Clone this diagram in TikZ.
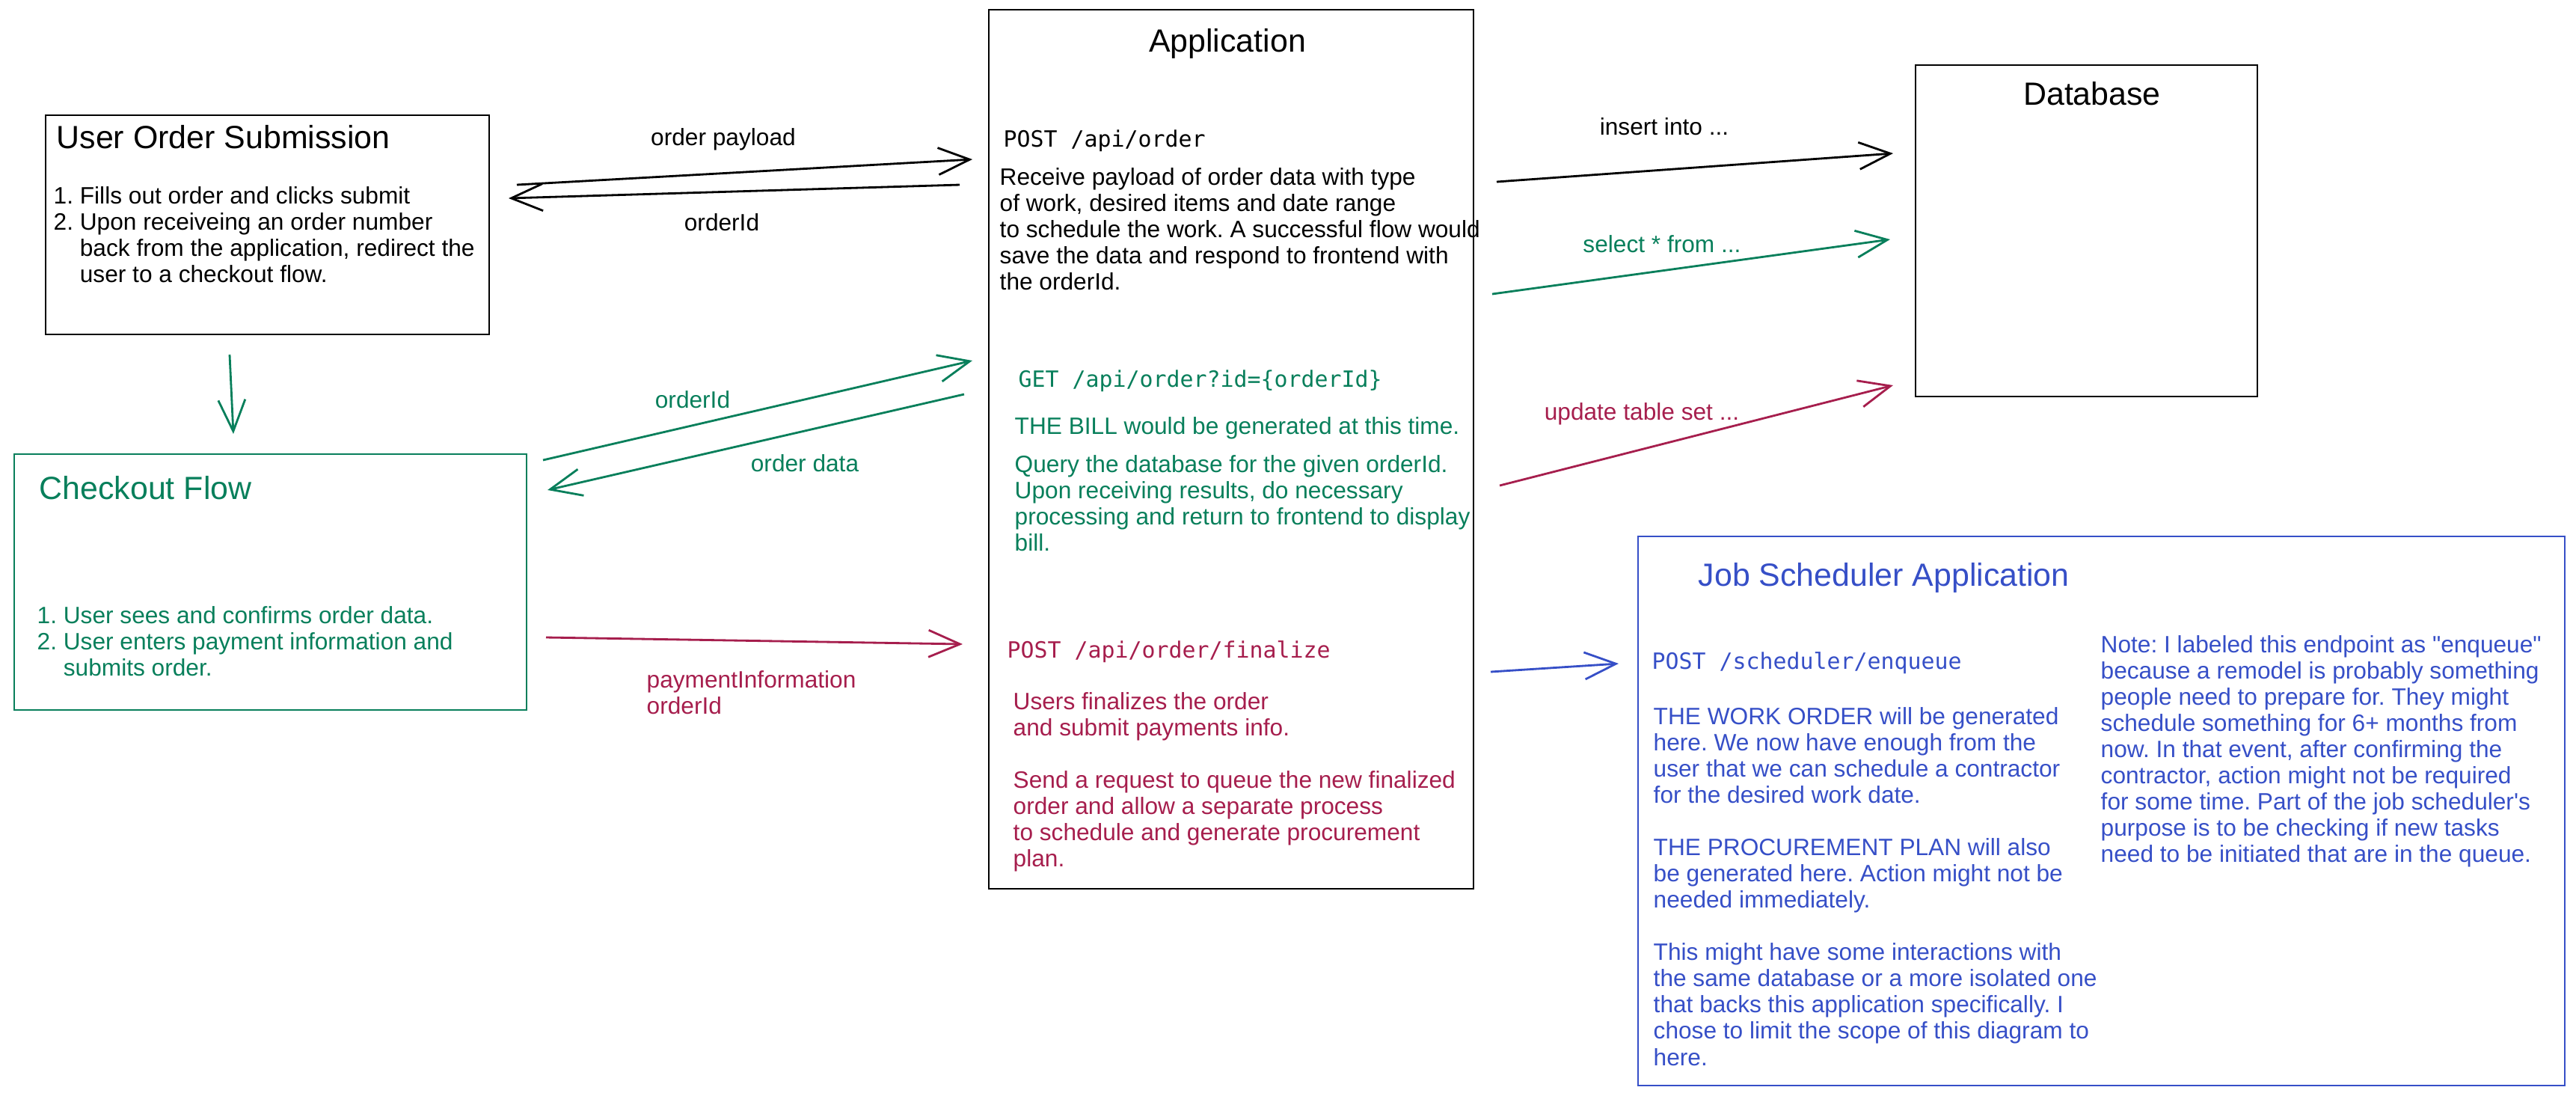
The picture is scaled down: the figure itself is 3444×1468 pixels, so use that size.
\documentclass[tikz,border=0pt]{standalone}
\usepackage{fontspec}
\setmainfont{Liberation Sans}
\setmonofont{DejaVu Sans Mono}
\usetikzlibrary{arrows.meta,fit}
\definecolor{flowgreen}{HTML}{087F5B}
\definecolor{flowred}{HTML}{A61E4D}
\definecolor{flowblue}{HTML}{364FC7}
\newcommand{\bodyfont}{\fontsize{9pt}{9.96pt}\selectfont}
\newcommand{\headfont}{\fontsize{12.2pt}{14pt}\selectfont}
\newcommand{\codefont}{\ttfamily\fontsize{8.5pt}{10pt}\selectfont}
\frenchspacing
\begin{document}
\begin{tikzpicture}[x=0.01cm, y=-0.01cm,
    box/.style={draw, line width=0.8pt, inner sep=0pt},
    head/.style={font=\headfont, inner sep=0pt},
    txt/.style={font=\bodyfont, align=left, inner sep=0pt, anchor=north west},
    code/.style={font=\codefont, inner sep=0pt, anchor=base west},
    lbl/.style={font=\bodyfont, inner sep=0pt, anchor=base},
    flow/.style={line width=0.8pt, -{Straight Barb[length=0.42cm, width=0.36cm]}}]
    \useasboundingbox (0,0) rectangle (3444,1468);

    % boxes
    \node[box, fit={(61,154) (654,447)}] (user) {};
    \node[box, draw=flowgreen, fit={(19,607) (704,949)}] (checkout) {};
    \node[box, fit={(1322,13) (1970,1188)}] (app) {};
    \node[box, fit={(2561,87) (3018,530)}] (db) {};
    \node[box, draw=flowblue, fit={(2190,717) (3429,1451)}] (jobs) {};

    % titles
    \node[head, anchor=base west] (usertitle) at (75,198) {User Order Submission};
    \node[head, anchor=base west, text=flowgreen] (checktitle) at (52,667) {Checkout Flow};
    \node[head, anchor=base] (apptitle) at (1641,69) {Application};
    \node[head, anchor=base] (dbtitle) at (2797,140) {Database};
    \node[head, anchor=base west, text=flowblue] (jobtitle) at (2270,783) {Job Scheduler Application};

    % frontend
    \node[txt] (usersteps) at (71,249) {1. Fills out order and clicks submit\\2. Upon receiveing an order number\\\phantom{2. }back from the application, redirect the\\\phantom{2. }user to a checkout flow.};
    \node[txt, text=flowgreen] (checksteps) at (49,810) {1. User sees and confirms order data.\\2. User enters payment information and\\\phantom{2. }submits order.};

    % application
    \node[code] (postorder) at (1341,196) {POST /api/order};
    \node[txt] (postdesc) at (1336,224) {Receive payload of order data with type\\of work, desired items and date range\\to schedule the work. A successful flow would\\save the data and respond to frontend with\\the orderId.};
    \node[code, text=flowgreen] (getorder) at (1361,517) {GET /api/order?id=\{orderId\}};
    \node[txt, text=flowgreen] (billnote) at (1356,557) {THE BILL would be generated at this time.};
    \node[txt, text=flowgreen] (getdesc) at (1356,608) {Query the database for the given orderId.\\Upon receiving results, do necessary\\processing and return to frontend to display\\bill.};
    \node[code, text=flowred] (finalize) at (1346,879) {POST /api/order/finalize};
    \node[txt, text=flowred] (finaldesc) at (1354,925) {Users finalizes the order\\and submit payments info.\\[9.96pt]Send a request to queue the new finalized\\order and allow a separate process\\to schedule and generate procurement\\plan.};

    % job scheduler
    \node[code, text=flowblue] (enqueue) at (2208,894) {POST /scheduler/enqueue};
    \node[txt, text=flowblue] (jobdesc) at (2210,945) {THE WORK ORDER will be generated\\here. We now have enough from the\\user that we can schedule a contractor\\for the desired work date.\\[9.96pt]THE PROCUREMENT PLAN will also\\be generated here. Action might not be\\needed immediately.\\[9.96pt]This might have some interactions with\\the same database or a more isolated one\\that backs this application specifically. I\\chose to limit the scope of this diagram to\\here.};
    \node[txt, text=flowblue] (jobnote) at (2808,849) {Note: I labeled this endpoint as \textquotedbl enqueue\textquotedbl\\because a remodel is probably something\\people need to prepare for. They might\\schedule something for 6+ months from\\now. In that event, after confirming the\\contractor, action might not be required\\for some time. Part of the job scheduler\textquotesingle s\\purpose is to be checking if new tasks\\need to be initiated that are in the queue.};

    % arrow ends
    \coordinate (payA) at (691,247);   \coordinate (payB) at (1300,213);
    \coordinate (idA) at (1283,247);   \coordinate (idB) at (680,265);
    \coordinate (goA) at (307,474);    \coordinate (goB) at (312,580);
    \coordinate (getA) at (726,615);   \coordinate (getB) at (1300,482);
    \coordinate (dataA) at (1289,527); \coordinate (dataB) at (732,655);
    \coordinate (payiA) at (730,852);  \coordinate (payiB) at (1287,861);
    \coordinate (insA) at (2001,243);  \coordinate (insB) at (2531,205);
    \coordinate (selA) at (1995,393);  \coordinate (selB) at (2527,320);
    \coordinate (updA) at (2005,649);  \coordinate (updB) at (2531,515);
    \coordinate (enqA) at (1993,898);  \coordinate (enqB) at (2164,887);

    % labels
    \node[lbl] (lpayload) at (967,194) {order payload};
    \node[lbl] (lid) at (965,308) {orderId};
    \node[lbl, text=flowgreen] (lgetid) at (926,545) {orderId};
    \node[lbl, text=flowgreen] (ldata) at (1076,630) {order data};
    \node[txt, text=flowred] (lpayinfo) at (864,896) {paymentInformation\\orderId};
    \node[lbl] (linsert) at (2225,180) {insert into ...};
    \node[lbl, text=flowgreen] (lselect) at (2222,337) {select * from ...};
    \node[lbl, text=flowred] (lupdate) at (2195,561) {update table set ...};

    % arrows
    \draw[flow] (payA) -- (payB);
    \draw[flow] (idA) -- (idB);
    \draw[flow, flowgreen] (goA) -- (goB);
    \draw[flow, flowgreen] (getA) -- (getB);
    \draw[flow, flowgreen] (dataA) -- (dataB);
    \draw[flow, flowred] (payiA) -- (payiB);
    \draw[flow] (insA) -- (insB);
    \draw[flow, flowgreen] (selA) -- (selB);
    \draw[flow, flowred] (updA) -- (updB);
    \draw[flow, flowblue] (enqA) -- (enqB);
\end{tikzpicture}
\end{document}
